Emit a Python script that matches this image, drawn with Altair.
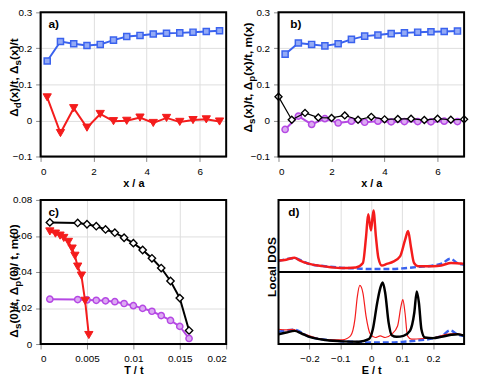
import altair as alt
import pandas as pd

FONT = "Liberation Sans"
BLUE = "#3a62ee"
BLUE_FILL = "#93aaf6"
RED = "#f41c1c"
PURPLE = "#b548e4"
PURPLE_FILL = "#dcaaf2"

# ---------------- panel a ----------------
a_x = [0.25, 0.75, 1.25, 1.75, 2.25, 2.75, 3.25, 3.75, 4.25, 4.75, 5.25, 5.75, 6.25, 6.75]
a_s = [0.165, 0.219, 0.213, 0.208, 0.211, 0.223, 0.233, 0.236, 0.240, 0.242, 0.243, 0.245, 0.247, 0.249]
a_d = [0.064, -0.035, 0.034, -0.020, 0.018, -0.002, -0.001, 0.008, -0.007, 0.007, -0.004, 0.001, 0.003, -0.003]

# ---------------- panel b ----------------
b_x_half = [0.25, 0.75, 1.25, 1.75, 2.25, 2.75, 3.25, 3.75, 4.25, 4.75, 5.25, 5.75, 6.25, 6.75]
b_s = [0.184, 0.215, 0.211, 0.207, 0.213, 0.225, 0.234, 0.237, 0.241, 0.243, 0.245, 0.246, 0.247, 0.248]
b_p = [-0.025, 0.012, -0.011, 0.005, -0.007, -0.002, -0.005, -0.002, -0.004, -0.003, -0.003, -0.004, -0.002, -0.003]
b_x_int = [0.0, 0.5, 1.0, 1.5, 2.0, 2.5, 3.0, 3.5, 4.0, 4.5, 5.0, 5.5, 6.0, 6.5, 7.0]
b_m = [0.066, 0.002, 0.021, 0.008, 0.007, 0.014, 0.002, 0.010, 0.003, 0.004, 0.005, 0.001, 0.005, 0.002, 0.003]

# ---------------- panel c ----------------
c_T = [0.001, 0.004, 0.005, 0.006, 0.007, 0.008, 0.009, 0.010, 0.011, 0.012, 0.013, 0.014, 0.015, 0.016]
c_m = [0.0675, 0.0672, 0.0665, 0.0654, 0.0636, 0.0618, 0.0590, 0.0560, 0.0522, 0.0476, 0.0422, 0.0350, 0.0255, 0.0075]
c_p = [0.0249, 0.0247, 0.0245, 0.0243, 0.0240, 0.0235, 0.0225, 0.0213, 0.0198, 0.0182, 0.0158, 0.0131, 0.0098, 0.0031]
c_T_red = [0.001, 0.0016, 0.0021, 0.0025, 0.003, 0.0034, 0.0037, 0.004, 0.0044, 0.0048, 0.0052]
c_red = [0.0625, 0.0613, 0.0602, 0.0589, 0.0567, 0.0530, 0.0490, 0.0430, 0.0380, 0.0240, 0.0050]

# ---------------- panel d (local DOS, arbitrary units) ----------------
d_top_E = [-0.3, -0.275, -0.248, -0.232, -0.2, -0.157, -0.1, -0.05, -0.027, -0.017, -0.01, -0.001,
           0.007, 0.015, 0.023, 0.034, 0.05, 0.071, 0.093, 0.109, 0.119, 0.128, 0.138, 0.151,
           0.2, 0.226, 0.258, 0.29, 0.3]
d_top_red = [0.158, 0.171, 0.198, 0.162, 0.112, 0.081, 0.054, 0.063, 0.126, 0.486, 0.80, 0.577,
             0.855, 0.486, 0.194, 0.09, 0.112, 0.144, 0.216, 0.441, 0.568, 0.351, 0.126, 0.081,
             0.081, 0.09, 0.126, 0.117, 0.115]
d_top_blue_E = [-0.3, -0.25, -0.2, -0.15, -0.1, -0.05, 0.0, 0.05, 0.1, 0.15, 0.2, 0.23, 0.255, 0.28, 0.3]
d_top_blue = [0.15, 0.19, 0.11, 0.08, 0.06, 0.05, 0.04, 0.04, 0.05, 0.07, 0.09, 0.12, 0.185, 0.12, 0.10]

d_bot_red_E = [-0.3, -0.275, -0.253, -0.232, -0.2, -0.147, -0.093, -0.067, -0.053, -0.045, -0.037,
               -0.027, -0.017, -0.003, 0.013, 0.029, 0.045, 0.066, 0.085, 0.096, 0.102, 0.109,
               0.117, 0.13, 0.173, 0.205, 0.247, 0.274, 0.3]
d_bot_red = [0.205, 0.196, 0.205, 0.16, 0.114, 0.059, 0.059, 0.114, 0.342, 0.662, 0.813,
             0.708, 0.388, 0.137, 0.091, 0.114, 0.091, 0.137, 0.251, 0.525, 0.616, 0.434,
             0.114, 0.068, 0.078, 0.091, 0.137, 0.146, 0.123]
d_bot_black_E = [-0.3, -0.275, -0.248, -0.227, -0.2, -0.147, -0.093, -0.04, -0.008, 0.005, 0.019,
                 0.029, 0.037, 0.045, 0.056, 0.066, 0.082, 0.104, 0.125, 0.139, 0.147, 0.154,
                 0.162, 0.173, 0.2, 0.226, 0.258, 0.279, 0.3]
d_bot_black = [0.137, 0.16, 0.183, 0.15, 0.1, 0.055, 0.037, 0.032, 0.068, 0.205, 0.571,
               0.776, 0.853, 0.708, 0.297, 0.123, 0.1, 0.114, 0.183, 0.434, 0.73, 0.571,
               0.205, 0.091, 0.082, 0.1, 0.128, 0.137, 0.116]
d_bot_blue_E = [-0.3, -0.25, -0.2, -0.15, -0.1, -0.05, 0.0, 0.05, 0.1, 0.15, 0.2, 0.23, 0.255, 0.28, 0.3]
d_bot_blue = [0.17, 0.20, 0.10, 0.06, 0.04, 0.03, 0.02, 0.02, 0.03, 0.05, 0.08, 0.12, 0.19, 0.13, 0.11]

W = 188
H = 146

# approximate Arial/Liberation Sans Bold advance widths (per 1000 em)
CW = {'Δ': 722, '(': 333, ')': 333, 'x': 556, '/': 278, 't': 333, ',': 278, ' ': 278,
      'd': 611, 's': 556, 'p': 611, 'm': 889, '0': 556}


def tw(s, fs):
    return sum(CW.get(ch, 556) for ch in s) * fs / 1000.0


one = pd.DataFrame({"k": [0]})


def rich_ytitle(pieces, x, yc, fs=12, sub_fs=10):
    total = sum(tw(t, sub_fs if sub else fs) for t, sub in pieces)
    pos = -total / 2
    layers = []
    for t, sub in pieces:
        f = sub_fs if sub else fs
        layers.append(
            alt.Chart(one).mark_text(
                text=t, angle=270, align="left", baseline="alphabetic",
                fontSize=f, fontWeight="bold", font=FONT, color="black"
            ).encode(x=alt.value(x + (3 if sub else 0)), y=alt.value(yc - pos))
        )
        pos += tw(t, f)
    return layers


def label(txt, x=8, y=12):
    return alt.Chart(one).mark_text(
        text=txt, align="left", baseline="middle", fontSize=12,
        fontWeight="bold", font=FONT, color="black"
    ).encode(x=alt.value(x), y=alt.value(y))


def frame():
    return alt.Chart(one).mark_rect(
        fill="transparent", stroke="black", strokeWidth=2
    ).encode(x=alt.value(0), x2=alt.value(W), y=alt.value(0), y2=alt.value(H))


def series(xs, ys, color, shape, fill, size, lw, mlw=1.5, xdom=None, ydom=None,
           xax=None, yax=None):
    df = pd.DataFrame({"x": xs, "y": ys})
    base = alt.Chart(df).encode(
        x=alt.X("x:Q", scale=alt.Scale(domain=xdom, nice=False, zero=False), axis=xax),
        y=alt.Y("y:Q", scale=alt.Scale(domain=ydom, nice=False, zero=False), axis=yax),
    )
    line = base.mark_line(color=color, strokeWidth=lw)
    pts = base.mark_point(shape=shape, size=size, filled=True, fill=fill,
                          stroke=color, strokeWidth=mlw, opacity=1)
    return [line, pts]


def xaxis(values, fmt, title):
    return alt.Axis(values=values, format=fmt, title=title, labelPadding=5,
                    titlePadding=1)


def yaxis(values, fmt):
    return alt.Axis(values=values, format=fmt, title=None, labelPadding=4)


# panel a
xa = xaxis([0, 2, 4, 6], "~f", "x / a")
ya = yaxis([-0.1, 0, 0.1, 0.2, 0.3], ".1~f")
pa = alt.layer(
    *series(a_x, a_s, BLUE, "square", BLUE_FILL, 38, 2, 1.5, [0, 7], [-0.1, 0.3], xa, ya),
    *series(a_x, a_d, RED, "triangle-down", RED, 70, 2, 1, [0, 7], [-0.1, 0.3], xa, ya),
    frame(),
    label("a)"),
    *rich_ytitle([("Δ", False), ("d", True), ("(x)/t, Δ", False), ("s", True), ("(x)/t", False)], -23, 66),
).properties(width=W, height=H)

# panel b
pb = alt.layer(
    *series(b_x_half, b_s, BLUE, "square", BLUE_FILL, 38, 2, 1.5, [0, 7], [-0.1, 0.3], xa, ya),
    *series(b_x_half, b_p, PURPLE, "circle", PURPLE_FILL, 40, 2, 1.5, [0, 7], [-0.1, 0.3], xa, ya),
    *series(b_x_int, b_m, "black", "diamond", "white", 50, 1.2, 1.4, [0, 7], [-0.1, 0.3], xa, ya),
    frame(),
    label("b)", 12),
    *rich_ytitle([("Δ", False), ("s", True), ("(x)/t, Δ", False), ("p", True), ("(x)/t, m(x)", False)], -27, 66),
).properties(width=W, height=H)

# panel c
xc = xaxis([0, 0.005, 0.01, 0.015, 0.02], "~g", "T / t")
yc = yaxis([0, 0.02, 0.04, 0.06, 0.08], ".2~f")
pc = alt.layer(
    *series(c_T, c_m, "black", "diamond", "white", 55, 2, 1.4, [0, 0.02], [0, 0.08], xc, yc),
    *series(c_T, c_p, PURPLE, "circle", PURPLE_FILL, 40, 2, 1.5, [0, 0.02], [0, 0.08], xc, yc),
    *series(c_T_red, c_red, RED, "triangle-down", RED, 70, 2, 1, [0, 0.02], [0, 0.08], xc, yc),
    frame(),
    label("c)", 8, 12),
    *rich_ytitle([("Δ", False), ("s", True), ("(0)/t, Δ", False), ("p", True), ("(0)/ t, m(0)", False)], -23, 82),
).properties(width=W, height=H)

# panel d
xd = xaxis([-0.2, -0.1, 0, 0.1, 0.2], ".1~f", "E / t")
dscale_x = alt.Scale(domain=[-0.3, 0.3], nice=False, zero=False)
dscale_y = alt.Scale(domain=[0, 2], nice=False, zero=False)


def dline(xs, ys, color, lw, dash=None, top=False):
    df = pd.DataFrame({"E": xs, "v": ys})
    mk = dict(color=color, strokeWidth=lw, interpolate="monotone")
    if dash:
        mk["strokeDash"] = dash
    ch = alt.Chart(df).transform_calculate(yy="datum.v + 1" if top else "datum.v")
    return ch.mark_line(**mk).encode(
        x=alt.X("E:Q", scale=dscale_x, axis=xd),
        y=alt.Y("yy:Q", scale=dscale_y, axis=None),
    )


divider = alt.Chart(one).mark_rule(color="black", strokeWidth=2).encode(y=alt.datum(1))
pd_ = alt.layer(
    dline(d_top_blue_E, d_top_blue, BLUE, 2.5, [6, 3], top=True),
    dline(d_top_E, d_top_red, RED, 2.5, top=True),
    dline(d_bot_blue_E, d_bot_blue, BLUE, 2.5, [6, 3]),
    dline(d_bot_red_E, d_bot_red, RED, 1.2),
    dline(d_bot_black_E, d_bot_black, "black", 2.5),
    divider,
    frame(),
    label("d)", 10, 12),
    *rich_ytitle([("Local DOS", False)], -3, 70),
).properties(width=W, height=H)

chart = alt.ConcatChart(
    concat=[pa, pb, pc, pd_], columns=2,
    spacing={"row": 44, "column": 53}, bounds="flush",
    padding={"left": -1, "top": -4, "right": 0, "bottom": 0},
).configure_view(stroke=None).configure_axis(
    domain=False, ticks=False, grid=True, gridColor="black", gridDash=[1, 2],
    gridWidth=1, gridOpacity=1, labelFont=FONT, labelFontSize=11,
    labelFontWeight="bold", labelColor="black", titleFont=FONT, titleFontSize=12,
    titleFontWeight="bold", titleColor="black",
).configure(background="white")

chart.save("out.html", embed_options={"renderer": "svg", "actions": False})
